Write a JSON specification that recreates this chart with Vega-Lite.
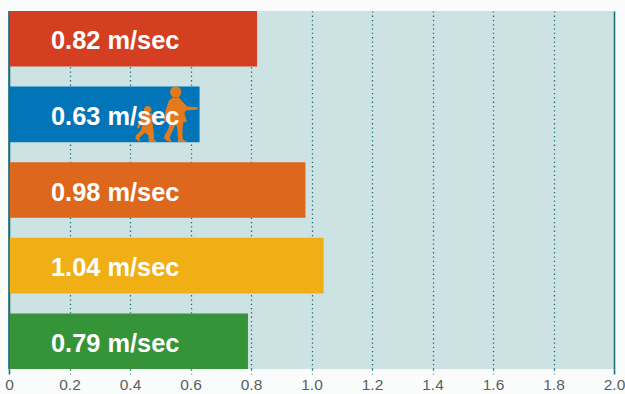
{
  "$schema": "https://vega.github.io/schema/vega-lite/v6.json",
  "width": 605,
  "height": 358,
  "padding": {"left": 9, "top": 11, "right": 11, "bottom": 25},
  "autosize": {"type": "none"},
  "background": "#fafcfc",
  "view": {"fill": "#cde3e3", "stroke": null},
  "datasets": {
    "speeds": [
      {"group": "Group 1", "speed": 0.82, "label": "0.82 m/sec"},
      {"group": "Group 2", "speed": 0.63, "label": "0.63 m/sec"},
      {"group": "Group 3", "speed": 0.98, "label": "0.98 m/sec"},
      {"group": "Group 4", "speed": 1.04, "label": "1.04 m/sec"},
      {"group": "Group 5", "speed": 0.79, "label": "0.79 m/sec"}
    ],
    "walkers": [
      {"group": "Group 2", "speed": 0.55}
    ],
    "baseline": [
      {"speed": 0}
    ]
  },
  "encoding": {
    "y": {
      "field": "group",
      "type": "nominal",
      "axis": null,
      "sort": ["Group 1", "Group 2", "Group 3", "Group 4", "Group 5"],
      "scale": {"paddingInner": 0.265, "paddingOuter": 0}
    }
  },
  "layer": [
    {
      "data": {"name": "speeds"},
      "mark": {"type": "bar"},
      "encoding": {
        "x": {
          "field": "speed",
          "type": "quantitative",
          "scale": {"domain": [0, 2], "nice": false},
          "axis": {
            "values": [0, 0.2, 0.4, 0.6, 0.8, 1.0, 1.2, 1.4, 1.6, 1.8, 2.0],
            "title": null,
            "domain": false,
            "grid": true,
            "gridColor": "#1f6f78",
            "gridWidth": {"condition": {"test": "datum.value === 0 || datum.value === 2", "value": 1.6}, "value": 1.3},
            "gridDash": {"condition": {"test": "datum.value === 0 || datum.value === 2", "value": []}, "value": [1.3, 3]},
            "ticks": true,
            "tickColor": "#1f6f78",
            "tickSize": 5,
            "tickWidth": {"condition": {"test": "datum.value === 0 || datum.value === 2", "value": 1.6}, "value": 1.3},
            "tickDash": {"condition": {"test": "datum.value === 0 || datum.value === 2", "value": []}, "value": [1.3, 3]},
            "labelFont": "Liberation Sans",
            "labelFontSize": 15.5,
            "labelColor": "#5c5f60",
            "labelPadding": 3,
            "labelFlush": false,
            "labelOverlap": false,
            "labelExpr": "datum.value === 0 ? '0' : format(datum.value, '.1f')"
          }
        },
        "color": {
          "field": "group",
          "type": "nominal",
          "legend": null,
          "scale": {
            "domain": ["Group 1", "Group 2", "Group 3", "Group 4", "Group 5"],
            "range": ["#d43f22", "#0274b8", "#dd671c", "#f0af14", "#359437"]
          }
        }
      }
    },
    {
      "data": {"name": "baseline"},
      "mark": {"type": "rule", "color": "#1f6f78", "strokeWidth": 1.6},
      "encoding": {
        "x": {"field": "speed", "type": "quantitative"},
        "y": null
      }
    },
    {
      "data": {"name": "walkers"},
      "mark": {
        "type": "point",
        "filled": true,
        "opacity": 1,
        "size": 4,
        "color": "#e37b1e",
        "strokeWidth": 0,
        "shape": "M-2,-17.3 L3,-17.3 L6.5,-13.3 L11.8,-8 L22.3,-7.2 L22.3,-5 L10.3,-3.8 L9,-0.7 L11.5,7 L7.8,8 L7.2,14 L7.2,24.5 L11.8,27.7 L2.5,27.7 L2.5,22 L1.8,14 L0.5,9 L-1.6,14 L-5.8,23 L-3.5,27.7 L-8.5,26.5 L-11.5,23.3 L-10.8,21 L-6.8,14 L-5.8,8 L-11.5,7 L-9.5,-5 L-6.5,-14 Z M-5.3,-22.3 a5.6,5.6 0 1,0 11.2,0 a5.6,5.6 0 1,0 -11.2,0 Z M-32.5,-1 L-38.4,12.7 L-36.7,14.2 L-32.7,8 L-34,15.3 L-39.6,21 L-40,24.3 L-35.4,27.7 L-36,23.3 L-30.2,18 L-27,21 L-26.5,27.7 L-18.5,27.7 L-21.2,25 L-21.8,16 L-23,8 L-21,4.3 L-23,-1 Z M-31.4,-4.7 a3.7,3.7 0 1,0 7.4,0 a3.7,3.7 0 1,0 -7.4,0 Z"
      },
      "encoding": {
        "x": {"field": "speed", "type": "quantitative"}
      }
    },
    {
      "data": {"name": "speeds"},
      "mark": {
        "type": "text",
        "align": "left",
        "baseline": "middle",
        "dx": 42,
        "dy": 2.5,
        "font": "Liberation Sans",
        "fontSize": 25.4,
        "fontWeight": "bold",
        "color": "#ffffff"
      },
      "encoding": {
        "x": {"datum": 0, "type": "quantitative"},
        "text": {"field": "label", "type": "nominal"}
      }
    }
  ]
}
